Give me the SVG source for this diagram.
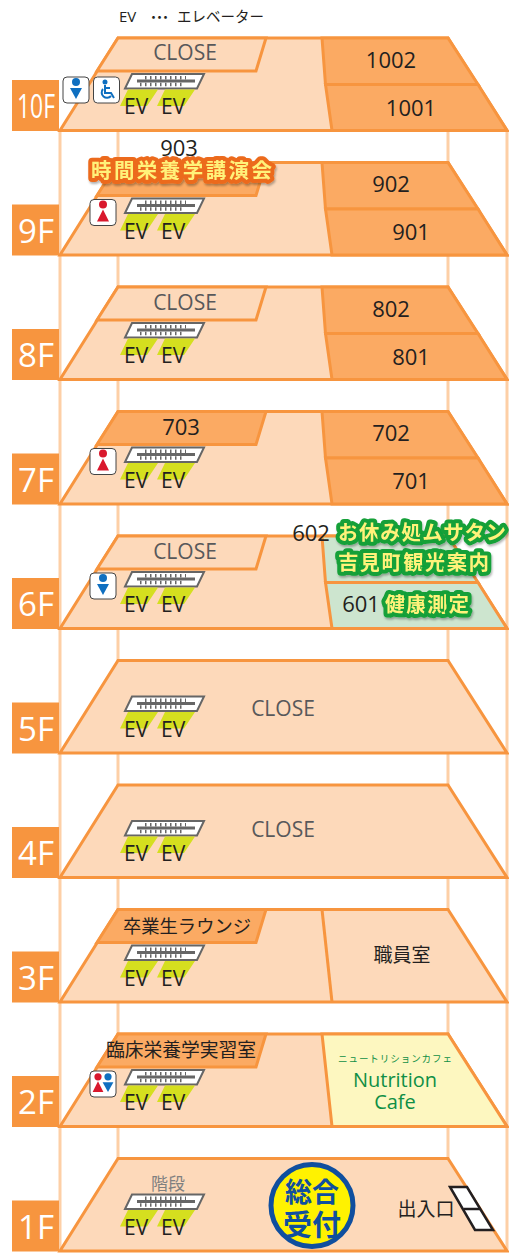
<svg xmlns="http://www.w3.org/2000/svg" width="509" height="1259" viewBox="0 0 509 1259">
<style>
text{font-family:"Open Sans","Noto Sans CJK JP",sans-serif}
.jp{font-family:"Noto Sans CJK JP","Noto Sans",sans-serif}
.p{stroke:#fdcfa6;stroke-width:3;fill:none}
.f{fill:#fdd9ba;stroke:#f7953f;stroke-width:3;stroke-linejoin:miter}
.r{fill:#fbaa63;stroke:#f7953f;stroke-width:3}
.lb{fill:#f7953f}
.fl{fill:#fff;font-size:33px;text-anchor:middle}
.cl{fill:#58585a;font-size:21px;text-anchor:middle}
.n{fill:#231f20;font-size:22px;text-anchor:middle}
.ev{fill:#231f20;font-size:21px}
.gt{font-size:20.5px;font-weight:700;fill:#fff27a;paint-order:stroke;stroke-linejoin:round;filter:url(#s)}
.oc{stroke:#ec6a1c;stroke-width:8}
.gc{stroke:#12a038;stroke-width:8}
.ic{fill:#fff;stroke:#444;stroke-width:1}
</style>
<defs>
<filter id="s" x="-10%" y="-20%" width="120%" height="150%"><feDropShadow dx="1" dy="2" stdDeviation="1.2" flood-color="#000" flood-opacity=".3"/></filter>
<g id="ev">
<path d="M132 74H204L197 88.500H125Z" fill="#fff" stroke="#666" stroke-width="2"/>
<path d="M145 77.800H186M140 84.500H185" stroke="#666" stroke-width="3.500" stroke-dasharray="1.500 3.500" fill="none"/>
<path d="M137 81H195" stroke="#666" stroke-width="2.800"/>
<path d="M128 89.500H158L147 106H120ZM165 89.500H195L184 106H157Z" fill="#d5df1f"/>
<text class="ev" x="124" y="114">EV</text><text class="ev" x="161" y="114">EV</text>
</g>
<path id="fb" d="M118 38H448L507 130.500H60Z" class="f"/>
<g id="man"><circle cx="0" cy="-8" r="4" fill="#0f6fc0"/><path d="M-6 -2H6L0 9Z" fill="#0f6fc0"/></g>
<g id="wom"><circle cx="0" cy="-8" r="4" fill="#d9182d"/><path d="M0 -3L6 9H-6Z" fill="#d9182d"/></g>
</defs>

<g id="pillars">
<path class="p" d="M60 130V1252M118 130V1158M448 37V1158M507 130V1252"/>
</g>

<g id="caption"><text x="119" y="22" font-size="15" fill="#231f20">EV</text><text class="jp" x="147" y="22" font-size="13" fill="#231f20" textLength="25">・・・</text><text class="jp" x="177" y="22" font-size="14.500" fill="#231f20" textLength="87">エレベーター</text></g>

<g id="floor10">
<use href="#fb"/>
<path class="f" d="M118 38H266L256 71H97Z"/>
<path class="r" d="M322 38H448L478 84.500H325.500Z"/><path class="r" d="M325.500 84.500H478L507 130.500H332Z"/>
<use href="#ev"/>
<text class="cl" x="185" y="60">CLOSE</text><text class="n" x="391" y="68">1002</text><text class="n" x="411" y="116">1001</text>
<rect class="lb" x="12" y="80" width="47" height="51"/><text class="fl" x="36" y="118" textLength="38" lengthAdjust="spacingAndGlyphs">10F</text>
<rect class="ic" x="63" y="77" width="26" height="26" rx="4"/><use href="#man" transform="translate(76 90)"/>
<rect class="ic" x="93.500" y="77" width="26" height="26" rx="4"/>
<g fill="none" stroke="#0f6fc0" stroke-width="2"><circle cx="105" cy="82" r="1.500" fill="#0f6fc0"/><path d="M105 85V93H111L114 98"/><path d="M105 88H110"/><path d="M103 89A5 5 0 1 0 111 96"/></g>
</g>

<g id="floor9" transform="translate(0 124.500)">
<use href="#fb"/>
<path class="r" d="M118 38H266L256 71H97Z"/>
<path class="r" d="M322 38H448L478 84.500H325.500Z"/><path class="r" d="M325.500 84.500H478L507 130.500H332Z"/>
<use href="#ev"/>
<text class="n" x="391" y="67">902</text><text class="n" x="411" y="115">901</text>
<rect class="lb" x="12" y="80" width="47" height="51"/><text class="fl" x="36" y="118">9F</text>
<rect class="ic" x="90" y="75" width="26" height="26" rx="4"/><use href="#wom" transform="translate(103 88)"/>
<text class="n" x="179" y="31">903</text>
<text class="gt oc jp" x="91" y="53" textLength="181">時間栄養学講演会</text>
</g>

<g id="floor8" transform="translate(0 249)">
<use href="#fb"/>
<path class="f" d="M118 38H266L256 71H97Z"/>
<path class="r" d="M322 38H448L478 84.500H325.500Z"/><path class="r" d="M325.500 84.500H478L507 130.500H332Z"/>
<use href="#ev"/>
<text class="cl" x="185" y="61">CLOSE</text><text class="n" x="391" y="68">802</text><text class="n" x="411" y="116">801</text>
<rect class="lb" x="12" y="80" width="47" height="51"/><text class="fl" x="36" y="118">8F</text>
</g>

<g id="floor7" transform="translate(0 373.500)">
<use href="#fb"/>
<path class="r" d="M118 38H266L256 71H97Z"/>
<path class="r" d="M322 38H448L478 84.500H325.500Z"/><path class="r" d="M325.500 84.500H478L507 130.500H332Z"/>
<use href="#ev"/>
<text class="n" x="181" y="61">703</text><text class="n" x="391" y="67">702</text><text class="n" x="411" y="115">701</text>
<rect class="lb" x="12" y="80" width="47" height="51"/><text class="fl" x="36" y="118">7F</text>
<rect class="ic" x="90" y="75" width="26" height="26" rx="4"/><use href="#wom" transform="translate(103 88)"/>
</g>

<g id="floor6" transform="translate(0 498)">
<use href="#fb"/>
<path class="f" d="M118 38H266L256 71H97Z"/>
<path d="M322 38H448L478 84.500H325.500Z" fill="#cde5cf" stroke="#f7953f" stroke-width="3"/><path d="M325.500 84.500H478L507 130.500H332Z" fill="#cde5cf" stroke="#f7953f" stroke-width="3"/>
<use href="#ev"/>
<text class="cl" x="185" y="61">CLOSE</text><text class="n" x="311" y="43">602</text><text class="n" x="361" y="114">601</text>
<rect class="lb" x="12" y="80" width="47" height="51"/><text class="fl" x="36" y="118">6F</text>
<rect class="ic" x="90" y="75" width="26" height="26" rx="4"/><use href="#man" transform="translate(103 88)"/>
<text class="gt gc jp" x="338" y="42" textLength="168">お休み処ムサタン</text>
<text class="gt gc jp" x="338" y="72" textLength="151">吉見町観光案内</text>
<text class="gt gc jp" x="385" y="114" textLength="84">健康測定</text>
</g>

<g id="floor5" transform="translate(0 622.500)">
<use href="#fb"/><use href="#ev"/>
<text class="cl" x="283" y="93.500">CLOSE</text>
<rect class="lb" x="12" y="80" width="47" height="51"/><text class="fl" x="36" y="118">5F</text>
</g>

<g id="floor4" transform="translate(0 747)">
<use href="#fb"/><use href="#ev"/>
<text class="cl" x="283" y="90">CLOSE</text>
<rect class="lb" x="12" y="80" width="47" height="51"/><text class="fl" x="36" y="118">4F</text>
</g>

<g id="floor3" transform="translate(0 871.500)">
<use href="#fb"/>
<path class="r" d="M118 38H266L256 71H97Z"/>
<path d="M322 38L332 130.500" stroke="#f7953f" stroke-width="3" fill="none"/>
<use href="#ev"/>
<text class="jp" x="187" y="61" font-size="18.300" fill="#231f20" text-anchor="middle">卒業生ラウンジ</text>
<text class="jp" x="402" y="90" font-size="19" fill="#231f20" text-anchor="middle">職員室</text>
<rect class="lb" x="12" y="80" width="47" height="51"/><text class="fl" x="36" y="118">3F</text>
</g>

<g id="floor2" transform="translate(0 996)">
<use href="#fb"/>
<path class="r" d="M118 38H266L256 71H97Z"/>
<path d="M322 38H448L507 130.500H332Z" fill="#fdf7c0" stroke="#f7953f" stroke-width="3"/>
<use href="#ev"/>
<text class="jp" x="181" y="61" font-size="18.800" fill="#231f20" text-anchor="middle">臨床栄養学実習室</text>
<text class="jp" x="395" y="66" font-size="9.500" fill="#0f8f46" text-anchor="middle" textLength="114">ニュートリションカフェ</text>
<text x="395" y="91" font-size="20" fill="#0f8f46" text-anchor="middle">Nutrition</text>
<text x="395" y="113" font-size="20" fill="#0f8f46" text-anchor="middle">Cafe</text>
<rect class="lb" x="12" y="80" width="47" height="51"/><text class="fl" x="36" y="118">2F</text>
<rect class="ic" x="90" y="75" width="26" height="26" rx="4"/><use href="#wom" transform="translate(98 88) scale(.9)"/><use href="#man" transform="translate(108 88) scale(.9)"/>
</g>

<g id="floor1" transform="translate(0 1120.500)">
<use href="#fb"/>
<use href="#ev"/>
<text class="jp" x="168" y="69" font-size="17" fill="#808080" text-anchor="middle">階段</text>
<rect class="lb" x="12" y="80" width="47" height="51"/><text class="fl" x="36" y="118">1F</text>
<circle cx="312" cy="85" r="41" fill="#fff200" stroke="#0f4f9f" stroke-width="5"/>
<text class="jp" x="312" y="81" font-size="27" font-weight="700" fill="#0f4f9f" text-anchor="middle">総合</text>
<text class="jp" x="312" y="115" font-size="29" font-weight="700" fill="#0f4f9f" text-anchor="middle">受付</text>
<text class="jp" x="426" y="95" font-size="19" fill="#231f20" text-anchor="middle">出入口</text>
<path d="M450 66.500H467L493 109.500H475Z" fill="#fff" stroke="#231f20" stroke-width="2.500"/>
<path d="M464 88.500H481" stroke="#231f20" stroke-width="2.500"/>
</g>
</svg>
